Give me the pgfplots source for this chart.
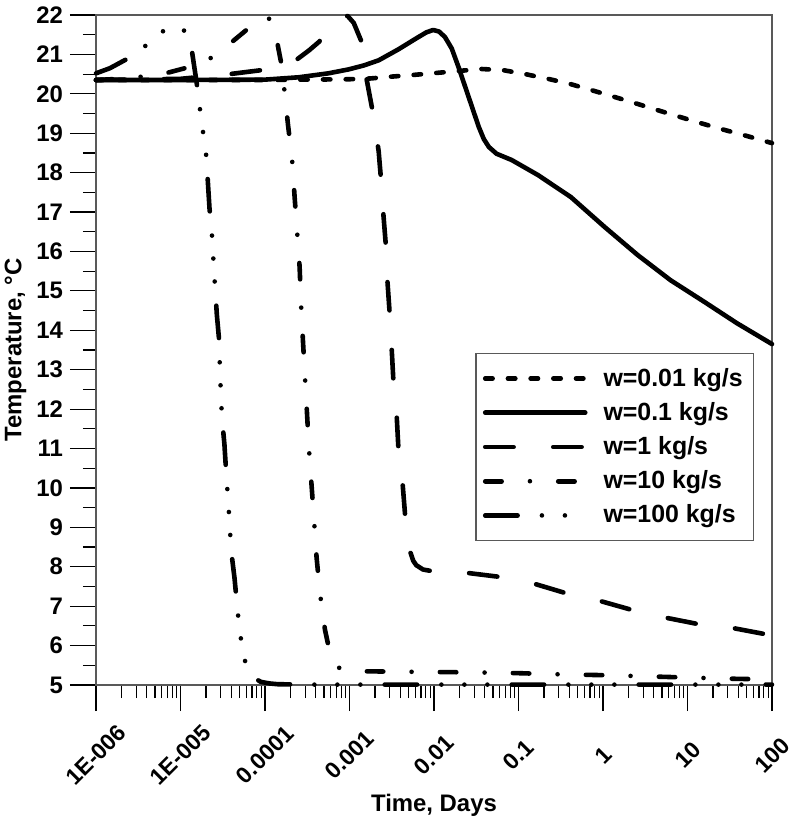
\documentclass[border=0pt]{standalone}
\usepackage{fontspec}
\setmainfont{Liberation Sans}
\usepackage{pgfplots}
\pgfplotsset{compat=1.18}
\begin{document}
\begin{tikzpicture}
\begin{axis}[
  scale only axis, width=338bp, height=335bp,
  xmin=-6, xmax=2, ymin=5, ymax=22,
  xtick={-6,-5,-4,-3,-2,-1,0,1,2},
  xticklabels={1E-006,1E-005,0.0001,0.001,0.01,0.1,1,10,100},
  minor xtick={-5.69897,-5.52288,-5.39794,-5.30103,-5.22185,-5.15490,-5.09691,-5.04576,
    -4.69897,-4.52288,-4.39794,-4.30103,-4.22185,-4.15490,-4.09691,-4.04576,
    -3.69897,-3.52288,-3.39794,-3.30103,-3.22185,-3.15490,-3.09691,-3.04576,
    -2.69897,-2.52288,-2.39794,-2.30103,-2.22185,-2.15490,-2.09691,-2.04576,
    -1.69897,-1.52288,-1.39794,-1.30103,-1.22185,-1.15490,-1.09691,-1.04576,
    -0.69897,-0.52288,-0.39794,-0.30103,-0.22185,-0.15490,-0.09691,-0.04576,
    0.30103,0.47712,0.60206,0.69897,0.77815,0.84510,0.90309,0.95424,
    1.30103,1.47712,1.60206,1.69897,1.77815,1.84510,1.90309,1.95424},
  ytick={5,6,...,22}, minor y tick num=1,
  tick align=outside, xtick pos=left, ytick pos=left,
  major tick length=13bp, minor tick length=6.5bp,
  every tick/.append style={black, line width=0.6bp},
  axis line style={black!65, line width=0.7bp},
  tick label style={font=\bfseries\fontsize{12}{14}\selectfont},
  /pgf/number format/assume math mode=true,
  xticklabel style={yshift=-22bp, rotate=45, anchor=center, font=\bfseries\fontsize{11.5}{14}\selectfont},
  xlabel={Time, Days}, ylabel={Temperature, °C},
  label style={font=\bfseries\fontsize{12}{14}\selectfont},
  xlabel style={at={(axis description cs:0.5,0)}, anchor=center, yshift=-60bp},
  ylabel style={at={(axis description cs:-0.119,0.5)}, anchor=center},
  clip=false,
  legend style={at={(0.561,0.496)}, anchor=north west, draw=black!65, line width=0.7bp,
    fill=white, font=\bfseries\fontsize{12.5}{15}\selectfont,
    inner xsep=3.5bp, inner ysep=4bp, row sep=0pt, column sep=6bp,
    nodes={inner ysep=3.3bp, inner xsep=2bp}},
  legend cell align=left,
  legend image code/.code={\draw[#1] (0bp,0bp) -- (50bp,0bp);},
]
% w = 0.01
\addplot[black, line width=2.3bp, line cap=round, line join=round, dash pattern=on 3.7bp off 7.65bp] coordinates {
(-6,20.35) (-5,20.35) (-4,20.35) (-3.5,20.36) (-3.0,20.37) (-2.75,20.39) (-2.54,20.43)
(-2.24,20.48) (-1.97,20.53) (-1.71,20.58) (-1.44,20.63) (-1.18,20.6) (-0.92,20.5)
(-0.65,20.38) (-0.39,20.25) (-0.146,20.1) (0.137,19.92) (0.37,19.77) (0.64,19.59)
(0.90,19.42) (1.15,19.26) (1.41,19.1) (1.67,18.95) (1.915,18.8) (2.0,18.75)};
\addlegendentry{w=0.01 kg/s}
% w = 0.1
\addplot[black, line width=2.3bp, line cap=round, line join=round] coordinates {
(-6,20.35) (-5,20.35) (-4,20.36) (-3.6,20.42) (-3.25,20.52) (-3.01,20.62) (-2.83,20.72)
(-2.655,20.85) (-2.42,21.13) (-2.2,21.42) (-2.09,21.56) (-2.01,21.62) (-1.94,21.58)
(-1.87,21.44) (-1.79,21.15) (-1.71,20.68) (-1.59,19.92) (-1.47,19.16) (-1.41,18.85)
(-1.35,18.65) (-1.26,18.48) (-1.08,18.32) (-0.77,17.94) (-0.38,17.38) (0.02,16.62)
(0.41,15.91) (0.80,15.27) (1.20,14.72) (1.585,14.18) (2.0,13.65)};
\addlegendentry{w=0.1 kg/s}
% w = 1
\addplot[black, line width=2.3bp, line cap=round, line join=round, dash pattern=on 14.2bp off 19.8bp] coordinates {
(-6,20.35) (-5,20.38) (-4.42,20.5) (-4.045,20.6) (-3.83,20.72) (-3.63,20.86) (-3.48,21.1)
(-3.36,21.32) (-3.22,21.7) (-3.14,21.92) (-3.08,22.0) (-3.02,21.97) (-2.95,21.8)
(-2.855,21.31) (-2.8,20.4) (-2.73,19.6) (-2.68,18.9) (-2.655,18.55) (-2.63,17.9)
(-2.6,16.97) (-2.57,16.16) (-2.55,15.22) (-2.525,14.44) (-2.5,13.5) (-2.48,12.7)
(-2.44,11.77) (-2.42,10.96) (-2.37,10.07) (-2.34,9.26) (-2.3,8.6) (-2.28,8.37)
(-2.245,8.15) (-2.21,8.04) (-2.13,7.93) (-2.0,7.88) (-1.59,7.84) (-1.21,7.74)
(-0.83,7.58) (-0.44,7.33) (-0.03,7.13) (0.35,6.90) (0.76,6.70) (1.14,6.54) (1.55,6.44)
(1.92,6.29) (2.0,6.27)};
\addlegendentry{w=1 kg/s}
% w = 10
\addplot[black, line width=2.3bp, line cap=round, line join=round, dash pattern=on 8.2bp off 14.15bp on 0bp off 14.15bp] coordinates {
(-6,20.35) (-5.72,20.38) (-5.48,20.43) (-5.16,20.53) (-4.93,20.66) (-4.66,20.88)
(-4.40,21.3) (-4.22,21.62) (-4.07,21.88) (-3.97,21.95) (-3.91,21.8) (-3.855,21.3)
(-3.81,20.8) (-3.775,20.18) (-3.727,19.2) (-3.68,18.35) (-3.65,17.4) (-3.62,16.5)
(-3.59,15.6) (-3.574,14.68) (-3.55,13.7) (-3.527,12.83) (-3.503,11.9) (-3.48,11.0)
(-3.45,10.1) (-3.42,9.2) (-3.39,8.25) (-3.35,7.34) (-3.29,6.4) (-3.24,5.9)
(-3.185,5.54) (-3.1,5.4) (-2.93,5.35) (-2.5,5.34) (-2.0,5.33) (-1.5,5.32) (-1.0,5.3)
(-0.5,5.27) (0,5.25) (0.5,5.22) (1.0,5.19) (1.5,5.16) (2.0,5.14)};
\addlegendentry{w=10 kg/s}
% w = 100
\addplot[black, line width=2.3bp, line cap=round, line join=round, dash pattern=on 16.2bp off 12.15bp on 0bp off 11.5bp on 0bp off 11.5bp on 0bp off 12.15bp] coordinates {
(-6,20.52) (-5.835,20.65) (-5.62,20.9) (-5.40,21.24) (-5.2,21.6) (-5.07,21.7)
(-4.975,21.65) (-4.92,21.5) (-4.87,21.16) (-4.81,20.3) (-4.775,19.7) (-4.74,19.13)
(-4.70,18.55) (-4.68,17.9) (-4.657,17.1) (-4.63,16.5) (-4.6,15.4) (-4.57,14.4)
(-4.545,13.8) (-4.53,12.8) (-4.51,11.8) (-4.48,11.1) (-4.457,10.3) (-4.43,9.5)
(-4.40,8.4) (-4.36,7.7) (-4.33,7.0) (-4.30,6.4) (-4.27,5.95) (-4.23,5.55) (-4.19,5.35)
(-4.13,5.18) (-4.05,5.08) (-3.95,5.04) (-3.85,5.02) (-3.5,5.01) (-3,5.01) (2,5.01)};
\addlegendentry{w=100 kg/s}
\end{axis}
\pgfresetboundingbox
\path[use as bounding box] ([xshift=-48bp,yshift=-70bp]current axis.south west) rectangle ([xshift=10bp,yshift=7.5bp]current axis.north east);
\end{tikzpicture}
\end{document}
